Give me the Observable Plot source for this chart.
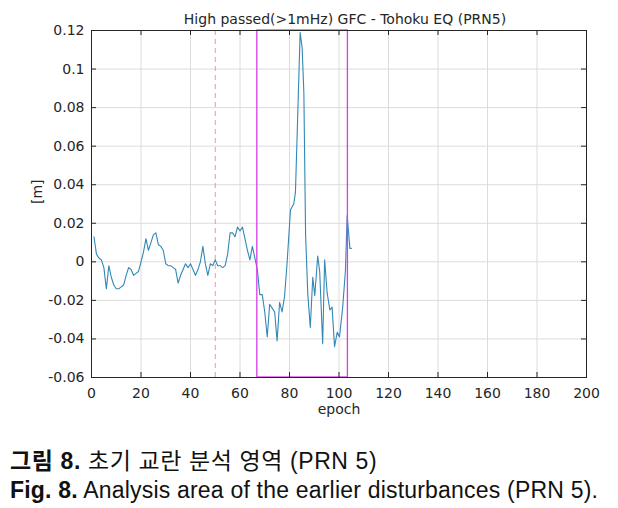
<!DOCTYPE html>
<html>
<head>
<meta charset="utf-8">
<script src="https://cdn.jsdelivr.net/npm/d3@7"></script>
<script src="https://cdn.jsdelivr.net/npm/@observablehq/plot@0.6"></script>
<style>
  body { margin: 0; background: #fff; }
  #chart { width: 618px; height: 430px; }
  .cap { font-family: "Liberation Sans", Arial, "Noto Sans CJK KR", sans-serif; font-size: 23px; color: #111; margin-left: 10px; line-height: 29px; white-space: nowrap; letter-spacing: 0.2px; }
  .cap b { font-weight: bold; }
  .kr { font-family: "Liberation Sans", "Noto Sans CJK KR", sans-serif; letter-spacing: 0.6px; }
</style>
</head>
<body>
<div id="chart"></div>
<div style="height:17px"></div>
<div class="cap kr"><b>그림 8.</b> 초기 교란 분석 영역 (PRN 5)</div>
<div class="cap"><b>Fig. 8.</b> Analysis area of the earlier disturbances (PRN 5).</div>
<script>
const titleText = "High passed(>1mHz) GFC - Tohoku EQ (PRN5)";
const xLabel = "epoch";
const yLabel = "[m]";
const xTicks = [0, 20, 40, 60, 80, 100, 120, 140, 160, 180, 200];
const yTicks = [-0.06, -0.04, -0.02, 0, 0.02, 0.04, 0.06, 0.08, 0.1, 0.12];
const epochs = [
  1, 2, 3, 4, 5, 6, 7, 8, 9, 10,
  11, 12, 13, 14, 15, 16, 17, 18, 19, 20,
  21, 22, 23, 24, 25, 26, 27, 28, 29, 30,
  31, 32, 33, 34, 35, 36, 37, 38, 39, 40,
  41, 42, 43, 44, 45, 46, 47, 48, 49, 50,
  51, 52, 53, 54, 55, 56, 57, 58, 59, 60,
  61, 62, 63, 64, 65, 66, 67, 68, 69, 70,
  71, 72, 73, 74, 75, 76, 77, 78, 79, 80.4,
  81.7, 82.4, 84.3, 85.1, 85.8, 86.5, 87.4, 88.4, 89.4, 90.2,
  91.4, 92.2, 93.4, 94.2, 95.2, 96.3, 97.2, 98.2, 99.3, 100.2,
  101.5, 102.6, 103.3, 104.4, 105
];
const values = [
  0.013, 0.004, 0.002, 0.001, -0.003, -0.014, -0.002, -0.008, -0.012, -0.014,
  -0.014, -0.013, -0.012, -0.007, -0.003, -0.004, -0.007, -0.006, -0.005, 0.000,
  0.005, 0.012, 0.006, 0.010, 0.014, 0.015, 0.009, 0.008, 0.006, -0.001,
  -0.002, -0.002, -0.003, -0.004, -0.011, -0.007, -0.004, -0.001, -0.003, -0.001,
  -0.004, -0.007, -0.004, 0.000, 0.008, -0.001, -0.007, -0.001, -0.002, 0.001,
  -0.002, -0.002, -0.003, -0.002, 0.004, 0.015, 0.015, 0.013, 0.018, 0.016,
  0.018, 0.012, 0.006, 0.001, 0.008, 0.002, -0.004, -0.017, -0.017, -0.026,
  -0.039, -0.022, -0.024, -0.026, -0.041, -0.021, -0.026, -0.018, -0.001, 0.027,
  0.030, 0.036, 0.119, 0.111, 0.088, 0.014, -0.017, -0.034, -0.008, -0.0175,
  0.003, -0.005, -0.0425, 0.001, -0.016, -0.025, -0.0235, -0.044, -0.0365, -0.039,
  -0.0235, -0.0045, 0.024, 0.007, 0.007
];
const markerEpoch = [50];
const windowStart = [67];
const windowEnd = [103.6];

const data = epochs.map((e, i) => ({epoch: e, value: values[i]}));
const win = [{x1: windowStart[0], x2: windowEnd[0]}];

const W = 618, H = 430, mt = 30, mb = 53, ml = 91, mr = 32;
const fh = H - mt - mb, fw = W - ml - mr;
const ink = "#262626";
const fmt = d => String(+d.toFixed(2));

const chart = Plot.plot({
  width: W, height: H,
  marginTop: mt, marginBottom: mb, marginLeft: ml, marginRight: mr,
  style: {fontFamily: "'DejaVu Sans', sans-serif", fontSize: "14px", color: ink, background: "#fff"},
  x: {domain: [0, 200], ticks: xTicks, label: null},
  y: {domain: [-0.06, 0.12], ticks: yTicks, label: null},
  marks: [
    Plot.gridX(xTicks, {stroke: "#dcdcdc", strokeOpacity: 1}),
    Plot.gridY(yTicks, {stroke: "#dcdcdc", strokeOpacity: 1}),
    Plot.ruleX(markerEpoch, {stroke: "#e89a9a", strokeDasharray: "5,4", strokeWidth: 1}),
    Plot.lineY(data, {x: "epoch", y: "value", stroke: "#3288b5", strokeWidth: 1.1}),
    Plot.rect(win, {x1: "x1", x2: "x2", y1: () => -0.06, y2: () => 0.12, fill: "none", stroke: "#d63ee8", strokeWidth: 1.3}),
    Plot.tickX(xTicks, {x: d => d, stroke: ink, insetTop: fh - 5}),
    Plot.tickX(xTicks, {x: d => d, stroke: ink, insetBottom: fh - 5}),
    Plot.tickY(yTicks, {y: d => d, stroke: ink, insetRight: fw - 5}),
    Plot.tickY(yTicks, {y: d => d, stroke: ink, insetLeft: fw - 5}),
    Plot.frame({stroke: ink, strokeWidth: 1}),
    Plot.axisX(xTicks, {tickSize: 0, tickPadding: 11, tickFormat: fmt, fontSize: 14, fill: ink}),
    Plot.axisY(yTicks, {tickSize: 0, tickPadding: 7, tickFormat: fmt, fontSize: 14, fill: ink}),
    Plot.text([xLabel], {frameAnchor: "bottom", dy: 36, fontSize: 14, fill: ink}),
    Plot.text([yLabel], {frameAnchor: "left", dx: -54, dy: 0, rotate: -90, fontSize: 14, fill: ink}),
    Plot.text([titleText], {frameAnchor: "top", dy: -16, dx: 6, fontSize: 14, fill: ink})
  ]
});
document.getElementById("chart").appendChild(chart);
</script>
</body>
</html>
